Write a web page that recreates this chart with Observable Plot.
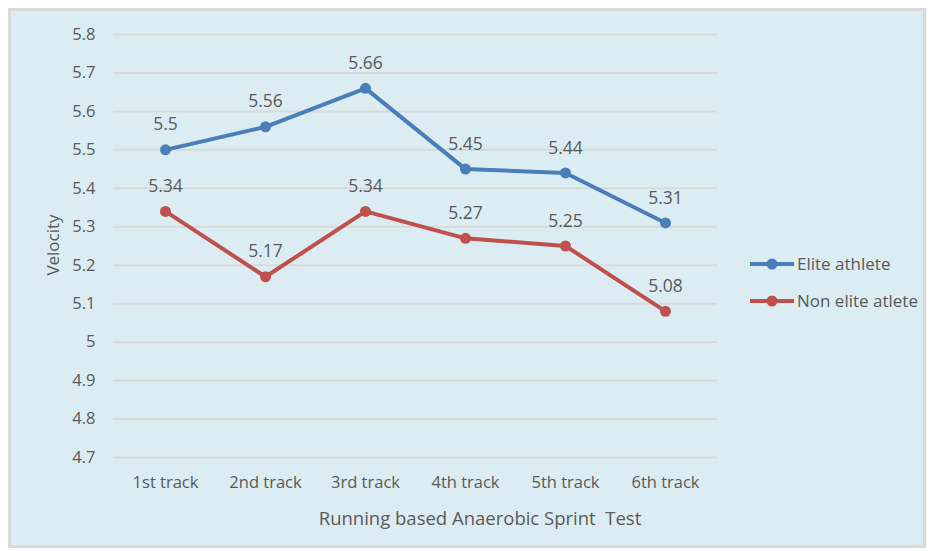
<!DOCTYPE html>
<html><head><meta charset="utf-8">
<script src="https://cdn.jsdelivr.net/npm/d3@7"></script>
<script src="https://cdn.jsdelivr.net/npm/@observablehq/plot@0.6"></script>
<style>
body{margin:0;background:#fff;font-family:"Open Sans",sans-serif;}
#wrap{position:relative;width:930px;height:551px;}
#box{position:absolute;left:8px;top:8px;width:912px;height:534px;background:#dbedf3;border:3px solid #d9d9d9;}
#chart{position:absolute;left:0;top:0;}
.t{position:absolute;color:#595959;font-size:17px;white-space:nowrap;}
</style></head><body>
<div id="wrap"><div id="box"></div><div id="chart"></div>
<div class="t" id="ytitle" style="left:52px;top:245px;font-size:17px;transform:translate(-50%,-50%) rotate(-90deg);">Velocity</div>
<div class="t" id="xtitle" style="left:480px;top:517px;font-size:18.5px;transform:translate(-50%,-50%);">Running based Anaerobic Sprint&nbsp; Test</div>
<div id="legend"></div>
</div>
<script>
const tracks = ["1st track","2nd track","3rd track","4th track","5th track","6th track"];
const elite = [5.5,5.56,5.66,5.45,5.44,5.31];
const nonElite = [5.34,5.17,5.34,5.27,5.25,5.08];
const series = ["Elite athlete","Non elite atlete"];
const colors = ["#4a7ebb","#c0504d"];
const yTicks = [4.7,4.8,4.9,5,5.1,5.2,5.3,5.4,5.5,5.6,5.7,5.8];

const data = [
  ...tracks.map((t,i)=>({track:t,v:elite[i],s:series[0]})),
  ...tracks.map((t,i)=>({track:t,v:nonElite[i],s:series[1]}))
];
const fmt = d => String(+d.toFixed(2));

const plot = Plot.plot({
  width:930,height:551,
  marginLeft:113,marginRight:213,marginTop:34,marginBottom:94,
  style:{background:"transparent",fontFamily:"'Open Sans',sans-serif",fontSize:"16.5px",color:"#595959"},
  x:{type:"point",domain:tracks,padding:0.5,label:null,tickSize:0,tickPadding:19},
  y:{domain:[4.7,5.8],ticks:yTicks,tickFormat:d=>String(+d.toFixed(1)),label:null,tickSize:0,tickPadding:18},
  color:{domain:series,range:colors},
  marks:[
    Plot.ruleY(yTicks,{stroke:"#d9d9d9",strokeWidth:2,strokeOpacity:1}),
    Plot.line(data,{x:"track",y:"v",z:"s",stroke:"s",strokeWidth:4}),
    Plot.dot(data,{x:"track",y:"v",fill:"s",r:5.5}),
    Plot.text(data,{x:"track",y:"v",text:d=>fmt(d.v),dy:-25,fill:"#595959",fontSize:17.5})
  ]
});
document.getElementById("chart").appendChild(plot);

const leg = document.getElementById("legend");
series.forEach((s,i)=>{
  const d = document.createElement("div");
  d.className="t";
  d.style.left="749px"; d.style.top=(252+i*37)+"px";
  d.style.display="flex"; d.style.alignItems="center";
  d.innerHTML=`<svg width="46" height="20"><line x1="1" y1="10" x2="45" y2="10" stroke="${colors[i]}" stroke-width="4"/><circle cx="23" cy="10" r="5.5" fill="${colors[i]}"/></svg><span style="margin-left:2px">${s}</span>`;
  leg.appendChild(d);
});
</script>
</body></html>
